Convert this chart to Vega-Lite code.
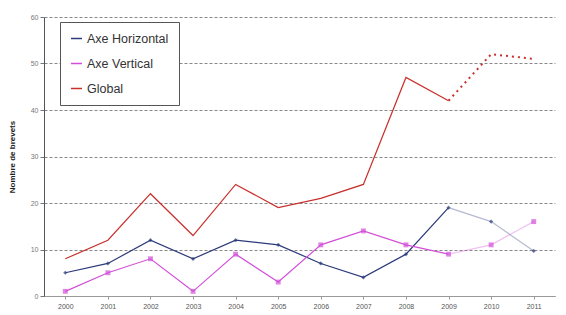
{
  "$schema": "https://vega.github.io/schema/vega-lite/v6.json",
  "width": 511,
  "height": 279,
  "autosize": {"type": "none"},
  "padding": {"left": 44, "top": 17, "right": 11, "bottom": 19},
  "background": "white",
  "config": {"view": {"stroke": null}, "font": "Arial"},
  "data": {"values": [
    {"series": "Axe Horizontal", "year": "2000", "value": 5},
    {"series": "Axe Horizontal", "year": "2001", "value": 7},
    {"series": "Axe Horizontal", "year": "2002", "value": 12},
    {"series": "Axe Horizontal", "year": "2003", "value": 8},
    {"series": "Axe Horizontal", "year": "2004", "value": 12},
    {"series": "Axe Horizontal", "year": "2005", "value": 11},
    {"series": "Axe Horizontal", "year": "2006", "value": 7},
    {"series": "Axe Horizontal", "year": "2007", "value": 4},
    {"series": "Axe Horizontal", "year": "2008", "value": 9},
    {"series": "Axe Horizontal", "year": "2009", "value": 19},
    {"series": "Axe Horizontal", "year": "2010", "value": 16},
    {"series": "Axe Horizontal", "year": "2011", "value": 9.7},
    {"series": "Axe Vertical", "year": "2000", "value": 1},
    {"series": "Axe Vertical", "year": "2001", "value": 5},
    {"series": "Axe Vertical", "year": "2002", "value": 8},
    {"series": "Axe Vertical", "year": "2003", "value": 1},
    {"series": "Axe Vertical", "year": "2004", "value": 9},
    {"series": "Axe Vertical", "year": "2005", "value": 3},
    {"series": "Axe Vertical", "year": "2006", "value": 11},
    {"series": "Axe Vertical", "year": "2007", "value": 14},
    {"series": "Axe Vertical", "year": "2008", "value": 11},
    {"series": "Axe Vertical", "year": "2009", "value": 9},
    {"series": "Axe Vertical", "year": "2010", "value": 11},
    {"series": "Axe Vertical", "year": "2011", "value": 16},
    {"series": "Global", "year": "2000", "value": 8},
    {"series": "Global", "year": "2001", "value": 12},
    {"series": "Global", "year": "2002", "value": 22},
    {"series": "Global", "year": "2003", "value": 13},
    {"series": "Global", "year": "2004", "value": 24},
    {"series": "Global", "year": "2005", "value": 19},
    {"series": "Global", "year": "2006", "value": 21},
    {"series": "Global", "year": "2007", "value": 24},
    {"series": "Global", "year": "2008", "value": 47},
    {"series": "Global", "year": "2009", "value": 42},
    {"series": "Global", "year": "2010", "value": 52},
    {"series": "Global", "year": "2011", "value": 51}
  ]},
  "encoding": {
    "x": {
      "field": "year", "type": "ordinal",
      "scale": {"type": "point", "padding": 0.5},
      "axis": {"title": null, "labelAngle": 0, "labelFontSize": 7, "labelColor": "#555", "ticks": true, "tickSize": 3, "tickColor": "#999", "domainColor": "#999", "labelPadding": 3, "grid": false}
    },
    "y": {
      "field": "value", "type": "quantitative",
      "scale": {"domain": [0, 60], "nice": false},
      "axis": {"title": "Nombre de brevets", "titleFontSize": 8, "titleFontWeight": "bold", "titleColor": "#222", "titlePadding": 14, "values": [0, 10, 20, 30, 40, 50, 60], "labelFontSize": 7, "labelColor": "#777", "tickSize": 4, "tickColor": "#777", "domainColor": "#555", "grid": true, "gridDash": [3, 2], "gridColor": "#888", "gridWidth": 1}
    },
    "color": {
      "field": "series", "type": "nominal",
      "scale": {"domain": ["Axe Horizontal", "Axe Vertical", "Global"], "range": ["#2b3a7a", "#d24fd8", "#c8302c"]},
      "legend": {"title": null, "orient": "none", "legendX": 16, "legendY": 5, "symbolType": "stroke", "symbolStrokeWidth": 1.5, "symbolSize": 120, "symbolOpacity": 1, "labelFontSize": 12.5, "labelColor": "#333", "rowPadding": 12, "strokeColor": "#555", "padding": 10, "fillColor": "white", "labelLimit": 200}
    }
  },
  "layer": [
    {
      "transform": [{"filter": "datum.year <= '2009'"}],
      "mark": {"type": "line", "strokeWidth": 1.2},
      "encoding": {"strokeWidth": {"condition": {"test": "datum.series === 'Global'", "value": 2}, "value": 1.2}}
    },
    {
      "transform": [{"filter": "datum.year >= '2009' && datum.series === 'Global'"}],
      "mark": {"type": "line", "strokeWidth": 2, "strokeDash": [2, 4]}
    },
    {
      "transform": [{"filter": "datum.year >= '2009' && datum.series !== 'Global'"}],
      "mark": {"type": "line", "strokeWidth": 1.2, "opacity": 0.35}
    },
    {
      "transform": [{"filter": "datum.series === 'Axe Horizontal'"}],
      "mark": {"type": "point", "shape": "diamond", "filled": true, "size": 18, "color": "#1a1f4a"}
    },
    {
      "transform": [{"filter": "datum.series === 'Axe Vertical'"}],
      "mark": {"type": "point", "shape": "square", "filled": true, "size": 24, "color": "#b43cc0"}
    }
  ]
}
